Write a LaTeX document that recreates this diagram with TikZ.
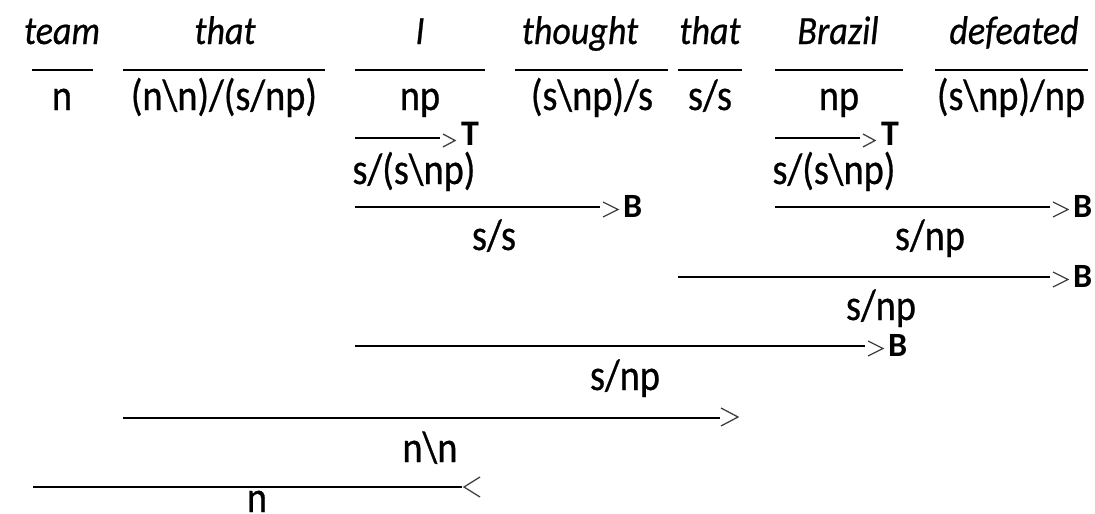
\documentclass[tikz,border=0pt]{standalone}
\usepackage{fontspec}
\setmainfont[FakeStretch=0.87,FakeBold=0.6]{Carlito}
\newfontfamily\wordfont[FakeStretch=0.9,FakeBold=0.6]{Carlito}
\newfontfamily\opfont{Carlito}
\begin{document}
\begin{tikzpicture}[x=1pt,y=-1pt,
  word/.style={anchor=base,inner sep=0pt,font=\wordfont\fontsize{40}{44}\selectfont\itshape},
  cat/.style={anchor=base,inner sep=0pt,font=\fontsize{44}{48}\selectfont},
  rule/.style={line width=2.4pt},
  chev/.style={line width=1.3pt,black!75,line join=miter},
  opname/.style={anchor=base west,inner sep=0pt,font=\opfont\fontsize{34}{36}\selectfont\bfseries},
  tname/.style={anchor=base west,inner sep=0pt,font=\opfont\fontsize{36}{38}\selectfont\bfseries}
]
\useasboundingbox (0,0) rectangle (1095,514);
% words
\node[word] (w1) at (62,44) {team};
\node[word] (w2) at (225,44) {that};
\node[word] (w3) at (420,44) {I};
\node[word] (w4) at (580,44) {thought};
\node[word] (w5) at (710,44) {that};
\node[word] (w6) at (838,44) {Brazil};
\node[word] (w7) at (1014,44) {defeated};
% lexical rules
\coordinate (a1) at (32,70);  \coordinate (b1) at (93,70);
\coordinate (a2) at (123,70); \coordinate (b2) at (325,70);
\coordinate (a3) at (355,70); \coordinate (b3) at (485,70);
\coordinate (a4) at (515,70); \coordinate (b4) at (668,70);
\coordinate (a5) at (678,70); \coordinate (b5) at (742,70);
\coordinate (a6) at (775,70); \coordinate (b6) at (903,70);
\coordinate (a7) at (935,70); \coordinate (b7) at (1088,70);
\foreach \i in {1,...,7} {\draw[rule] (a\i) -- (b\i);}
% lexical categories
\node[cat] (c1) at (62,110) {n};
\node[cat] (c2) at (224,110) {(n\textbackslash n)/(s/np)};
\node[cat] (c3) at (420,110) {np};
\node[cat] (c4) at (592,110) {(s\textbackslash np)/s};
\node[cat] (c5) at (710,110) {s/s};
\node[cat] (c6) at (839,110) {np};
\node[cat] (c7) at (1011,110) {(s\textbackslash np)/np};
% type raising I
\coordinate (t1a) at (355,138); \coordinate (t1b) at (440,138);
\draw[rule] (t1a) -- (t1b);
\draw[chev] (t1b) ++(3,-4) -- ++(12,6.5) -- ++(-12,6.5);
\node[tname] (n1) at ([xshift=21pt,yshift=-7pt]t1b) {T};
\node[cat] (r1) at (414,184) {s/(s\textbackslash np)};
% type raising Brazil
\coordinate (t2a) at (775,138); \coordinate (t2b) at (860,138);
\draw[rule] (t2a) -- (t2b);
\draw[chev] (t2b) ++(3,-4) -- ++(12,6.5) -- ++(-12,6.5);
\node[tname] (n2) at ([xshift=21pt,yshift=-7pt]t2b) {T};
\node[cat] (r2) at (834,184) {s/(s\textbackslash np)};
% composition I thought
\coordinate (p1a) at (355,207); \coordinate (p1b) at (600,207);
\draw[rule] (p1a) -- (p1b);
\draw[chev] (p1b) ++(3,-5) -- ++(15,7.5) -- ++(-15,7.5);
\node[opname] (n3) at ([xshift=23pt,yshift=-10pt]p1b) {B};
\node[cat] (r3) at (494,250) {s/s};
% composition Brazil defeated
\coordinate (p2a) at (775,207); \coordinate (p2b) at (1050,207);
\draw[rule] (p2a) -- (p2b);
\draw[chev] (p2b) ++(3,-5) -- ++(15,7.5) -- ++(-15,7.5);
\node[opname] (n4) at ([xshift=23pt,yshift=-10pt]p2b) {B};
\node[cat] (r4) at (930,250) {s/np};
% composition that + s/np
\coordinate (p3a) at (678,277); \coordinate (p3b) at (1050,277);
\draw[rule] (p3a) -- (p3b);
\draw[chev] (p3b) ++(3,-5) -- ++(15,7.5) -- ++(-15,7.5);
\node[opname] (n5) at ([xshift=23pt,yshift=-10pt]p3b) {B};
\node[cat] (r5) at (881,320) {s/np};
% composition s/s + s/np
\coordinate (p4a) at (355,346); \coordinate (p4b) at (865,346);
\draw[rule] (p4a) -- (p4b);
\draw[chev] (p4b) ++(3,-5) -- ++(15,7.5) -- ++(-15,7.5);
\node[opname] (n6) at ([xshift=23pt,yshift=-10pt]p4b) {B};
\node[cat] (r6) at (625,390) {s/np};
% application that
\coordinate (p5a) at (123,418); \coordinate (p5b) at (720,418);
\draw[rule] (p5a) -- (p5b);
\draw[chev] (p5b) ++(1,-10) -- ++(17,9) -- ++(-17,9);
\node[cat] (r7) at (430,462) {n\textbackslash n};
% backward application
\coordinate (p6a) at (33,487); \coordinate (p6b) at (462,487);
\draw[rule] (p6a) -- (p6b);
\draw[chev] (p6b) ++(18,-10) -- ++(-16,10) -- ++(16,10);
\node[cat] (r8) at (257,512) {n};
\end{tikzpicture}
\end{document}
